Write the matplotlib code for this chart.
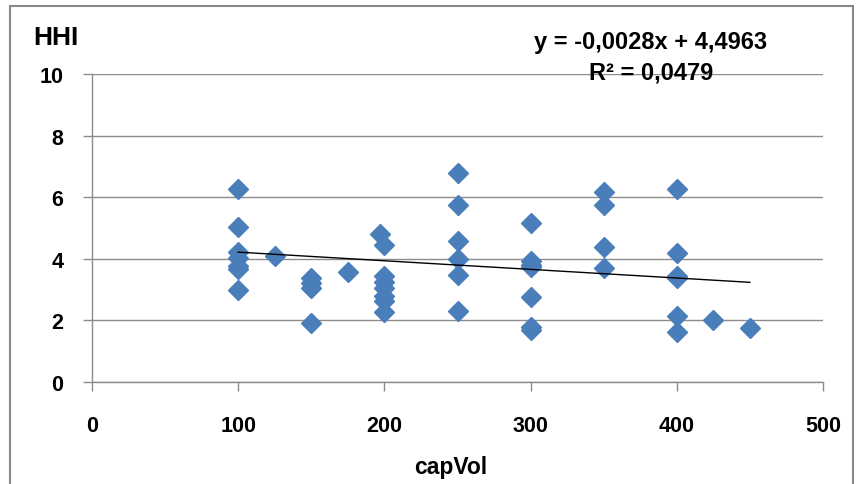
import matplotlib
matplotlib.use("Agg")
import matplotlib.pyplot as plt
from matplotlib.patches import Rectangle

plt.rcParams['font.family'] = ['Liberation Sans', 'DejaVu Sans']

capvol = [100, 100, 100, 100, 100, 100, 100,
          125,
          150, 150, 150, 150,
          175,
          197, 200, 200, 200, 200, 200, 200, 200,
          250, 250, 250, 250, 250, 250,
          300, 300, 300, 300, 300, 300, 300,
          350, 350, 350, 350,
          400, 400, 400, 400, 400, 400,
          425, 450]
hhi = [6.27, 5.02, 4.22, 4.02, 3.78, 3.66, 2.98,
       4.10,
       3.38, 3.21, 3.04, 1.90,
       3.58,
       4.80, 4.45, 3.45, 3.25, 3.05, 2.80, 2.64, 2.28,
       6.80, 5.76, 4.57, 3.99, 3.47, 2.32,
       5.16, 3.92, 3.80, 3.72, 2.76, 1.80, 1.68,
       6.16, 5.75, 4.37, 3.69,
       6.27, 4.18, 3.45, 3.38, 2.15, 1.62,
       2.01, 1.75]

slope, intercept = -0.0028, 4.4963
x_ticks = [0, 100, 200, 300, 400, 500]
y_ticks = [0, 2, 4, 6, 8, 10]

fig = plt.figure(figsize=(8.6, 4.85), dpi=100)
# outer chart border
fig.patches.append(Rectangle((10/860, -0.02), (853-10)/860, 1 - 7/485 + 0.02,
                             transform=fig.transFigure, fill=False,
                             edgecolor='#888888', linewidth=1.5))

ax = fig.add_axes([92/860, (485-383)/485, (823-92)/860, (383-75)/485])
ax.set_xlim(0, 500)
ax.set_ylim(0, 10)
ax.set_xticks(x_ticks)
ax.set_yticks(y_ticks)
ax.yaxis.grid(True, color='#8c8c8c', linewidth=1)
ax.set_axisbelow(True)
for s in ['top', 'right']:
    ax.spines[s].set_visible(False)
for s in ['left', 'bottom']:
    ax.spines[s].set_color('#8c8c8c')
    ax.spines[s].set_linewidth(1)
ax.tick_params(axis='both', direction='out', length=6.5, width=1, color='#8c8c8c',
               labelsize=15.5)
ax.tick_params(axis='x', pad=17)
ax.tick_params(axis='y', pad=14)
for lab in ax.get_xticklabels() + ax.get_yticklabels():
    lab.set_fontweight('bold')

ax.plot(capvol, hhi, linestyle='none', marker='D', markersize=10.5,
        color='#4A7EBB', markeredgecolor='#4A7EBB', zorder=3)

xs = [min(capvol), max(capvol)]
ax.plot(xs, [slope * v + intercept for v in xs], color='black', linewidth=1, zorder=4)

fig.text(33/860, 1 - 38/485, 'HHI', fontsize=19, fontweight='bold', va='center', ha='left')
fig.text(451/860, 1 - 468/485, 'capVol', fontsize=16.5, fontweight='bold', va='center', ha='center')
fig.text(651/860, 1 - 42/485, 'y = -0,0028x + 4,4963', fontsize=17, fontweight='bold',
         va='center', ha='center')
fig.text(651/860, 1 - 73/485, 'R² = 0,0479', fontsize=17, fontweight='bold',
         va='center', ha='center')

fig.savefig('out.png', dpi=100)
